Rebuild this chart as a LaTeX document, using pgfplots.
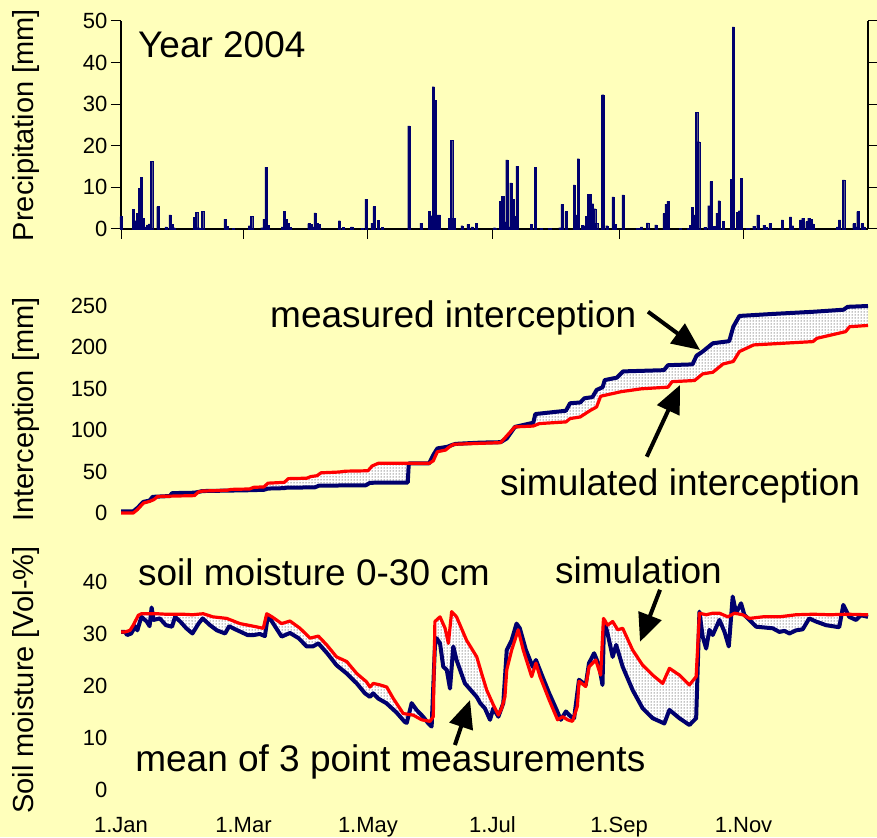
\documentclass[border=0pt]{standalone}
\usepackage{pgfplots}
\usepackage{pgfplotstable}
\pgfplotsset{compat=1.18}
\usepgfplotslibrary{fillbetween}
\usetikzlibrary{patterns,arrows.meta}
\usepackage{fontspec}
\setmainfont{Liberation Sans}
\definecolor{bg}{RGB}{255,255,187}
\definecolor{navy}{RGB}{0,0,110}
\definecolor{simred}{RGB}{255,0,0}

\pgfplotstableread{
day ic
0 2
6 2
8 6
11 13.5
14 15
15.5 19.5
24 20.5
25 24
36 24.5
38 25.5
40 26.5
63 27.5
70 28
72 29.5
80 30
81 30.5
95 31
97 33
120 33.5
122 36.5
140.5 36.8
141 60
151 60
153 70
155 78
160 80
162 82
164 83.5
176 85
186 85.5
189 90
193 104
202 109
203 119.5
218 123.5
220 132.5
225 133.5
227 138.5
231 140
233 148.5
236 152
237 160.5
243 163.5
246 171
266 172.5
268 178.5
280 179.5
282 190
285 195
287 199
290 205
298 207.5
300 225
303 238
320 240.5
339 243
354 245.5
356 249
366 250
}\measI

\pgfplotstableread{
day ic
0 0
6 0
8 4
11 12
14 14
16 16
18 20
36 21
38 25.5
40 26.5
52 27.5
54 28.5
63 29
65 31
70 31.5
72 36
80 37
82 41.5
91 42
93 44
96 45
98 48.5
107 49.5
110 50.5
121 51
123 56.7
126 60
151 60
153 63
155 74
159 76
161 80
163 83
186 85
193 104
202 105
205 108
218 110
220 114
225 116
230 124
233 128
235 141
245 146.5
255 150
268 152
270 158.6
281 160
285 168
290 170
295 180
300 183
303 195
310 203
339 207
341 211
355 219
357 225
366 226.5
}\simI

\pgfplotstableread{
day sm
0 30.4
2 30.4
3 29.8
5 30.1
7 31.5
8 30.7
10 33.3
12.6 32.4
14 31.5
15 35.1
16 32.7
19 33
22 31.7
25 31.4
26.5 33.3
29 32.4
32 31.1
35 30.1
38 32
40 33
43.6 31.7
47 30.7
51 30.1
53 31.5
56 30.9
62 29.8
65 29.8
68 30.0
70.5 29.6
72 33.6
74.6 32
78.7 29.5
82.8 30.2
87 29.2
91 27.6
94 27.6
96.7 28.2
101 26.3
105.6 24
110.6 22.4
115.5 20.5
119.5 18.6
122 17.9
123.5 18.6
126 17.6
130 16.7
135 14.9
139 13.1
140 12.9
142.4 16.7
144.8 15.4
148 14.1
150.6 12.8
152.2 12.2
153.8 27.6
154.6 29.2
156.3 28.2
157.9 23.7
159.6 23.1
161.2 19.5
162.8 27.6
164.4 25
168.5 20.5
174.3 17.9
176 16.7
178.3 15.7
180.8 13.5
182.4 15.7
184.9 14.1
187.3 16.7
189 26.9
191.4 28.8
193.8 32
195.4 31.1
198.4 26.9
201.7 23.7
203.3 25
206.5 21.8
209.8 18.6
213.1 15.7
215.5 13.5
218 15.1
220.4 14.1
222 13.8
224.4 21.2
227.7 20.2
229.3 24.4
231.8 26.3
234.2 24
235.9 20.2
236.7 32.7
238.4 30.1
240.9 25.6
242.6 27.9
245.8 23.7
250.7 19.2
255.6 15.7
260.5 13.8
266.2 12.8
268.7 15.4
273.6 13.8
278.5 12.5
281.8 13.8
283.4 34.3
285 29.5
286.7 27.2
288.3 30.8
289.9 29.8
293.2 32.7
295.7 30.4
297.8 27.6
299.7 37.2
301.4 34
303.8 35.9
305.4 33.7
311.2 31.4
319.3 31.1
322.6 30.4
325 30.6
327.5 30.1
330.7 30.7
334 30.9
337.2 33
340.5 32.4
345.4 31.7
351.9 31.3
353.9 35.6
356.8 33.3
360.1 32.7
362.5 33.6
366 33.3
}\measS

\pgfplotstableread{
day sm
0 30.4
2 30.4
4.4 30.7
6 31.7
8.5 33.6
10 33.9
17.5 33.9
22 33.8
30.5 33.8
35 33.7
40.3 33.9
45 33.3
51.8 33
58.3 32
64.8 31.5
69.7 31.1
71.4 33.9
74 33.3
78.7 32
82.8 32.5
87.7 31.1
92.6 29.2
96.7 29.6
100.8 27.9
105.6 25.6
110.6 24.7
115.5 22.4
120.3 20.8
122 19.8
123.6 20.5
127 20.2
130.2 19.8
133.4 17.6
138.3 14.7
143.2 14.4
147.3 13.5
151.4 13.2
153 14.1
153.8 32.4
156.3 33.3
158.8 31.1
160.4 28.2
162 34.3
164.4 33.3
169.3 28.8
174.3 25.6
177 22
179.2 19.2
182.4 16.4
184.9 14.4
186.5 15.7
188.1 17.9
189 23.1
191.4 26.9
194.6 30.8
197.1 26.9
201.2 21.8
203.3 24.4
205.3 21.8
209.8 17.3
213.9 13.5
216.4 14.1
218.8 13.5
221.2 13.2
223.6 16.1
224.4 20.9
227.7 19.9
229.3 23.7
232.6 25
235 22.1
236.4 33
238.4 31.7
240.9 32.4
243.4 30.8
245.8 31.1
250.7 26.9
255.6 24
260.5 22.1
265.4 20.5
268.7 23.4
273.6 22.1
278.5 20.2
281.8 21.8
283.4 34
286.7 33.7
289.9 34
293.2 34
297.3 33.3
300.6 34
304.6 33.7
307.9 33
314.4 33.3
322.6 33.3
330.7 33.7
339.2 33.8
347.4 33.7
355.6 33.8
366 33.7
}\simS

\begin{document}
\begin{tikzpicture}[font=\fontsize{22}{26}\selectfont]
\fill[bg] (0,0) rectangle (877pt,837pt);
\tikzset{fill between/on layer=main}
\pgfplotsset{
  panel/.style={
    width=747pt, scale only axis,
    xmin=0, xmax=366,
    axis x line=bottom, axis y line=box,
    axis line style={-, line width=1.1pt, black},
    tick align=outside,
    major tick length=10pt,
    tick style={black, line width=1pt},
    xtick={0,60,121,182,244,305},
    xticklabels={},
    /pgf/number format/assume math mode=true,
    tick label style={font=\fontsize{22}{26}\selectfont},
    xticklabel style={yshift=-13pt, text height=16pt, text depth=5pt},
    ylabel style={font=\fontsize{29}{33}\selectfont, at={(axis description cs:-0.127,0.5)}, anchor=center},
    clip=false,
    anchor=south west,
  },
}
\tikzset{
  ann/.style={font=\fontsize{37}{44}\selectfont, anchor=base west, inner sep=0pt},
  arr/.style={line width=4pt, -{Triangle[length=28pt,width=24pt]}},
  meas/.style={navy, line width=4pt, line join=round},
  sim/.style={simred, line width=3.2pt, line join=round},
}

% ---------------- Precipitation ----------------
\begin{axis}[panel, at={(121pt,608pt)}, height=208pt,
  ymin=0, ymax=50, ytick={0,10,...,50}, ylabel={Precipitation [mm]},
  ybar, bar width=2.2pt]
\addplot[fill=navy, draw=navy, line width=0.2pt] table {
0 3.0
6 4.8
7 2.0
8 3.8
9 9.8
10 12.4
11 2.6
12 0.5
13 1.0
14 1.2
15 16.2
18 5.4
22 0.5
24 3.4
25 1.1
26 0.3
36 2.8
37 4.0
38 0.3
40 4.2
51 2.4
52 0.7
55 0.2
63 0.8
64 3.1
69 0.3
70 2.4
71 14.9
72 0.9
79 0.5
80 4.3
81 2.4
82 1.3
83 0.4
92 1.3
93 1.1
94 0.5
95 3.9
96 1.4
97 1.1
107 2.0
109 0.4
113 0.5
118 0.1
120 7.2
123 1.4
124 5.4
126 2.1
128 0.4
141 24.8
147 1.4
151 4.3
152 3.2
153 34.2
154 31.0
155 3.4
156 3.4
161 2.6
162 21.3
163 2.5
167 0.8
170 1.1
172 0.5
174 1.3
183 0.3
186 6.7
187 7.8
188 1.7
189 16.6
190 0.5
191 11.1
192 7.1
193 3.0
194 15.1
201 1.1
203 14.8
206 0.1
210 0.1
215 0.3
216 5.9
218 4.2
222 10.6
223 3.4
224 16.9
226 0.9
227 0.8
228 3.1
229 8.3
230 8.3
231 6.1
232 4.9
233 1.3
236 32.3
238 0.8
241 7.7
242 1.1
246 8.2
253 0.2
254 0.2
255 0.5
258 1.5
262 1.0
266 3.7
267 6.0
268 6.7
274 0.1
278 0.1
279 0.9
280 5.2
281 3.4
282 28.1
283 21.0
286 0.4
288 5.6
289 11.4
290 0.7
291 0.7
292 3.8
293 6.8
295 1.8
299 11.9
300 48.6
302 4.0
303 4.4
304 12.2
307 0.1
310 0.7
312 3.4
315 0.9
316 0.4
318 1.3
324 2.2
328 2.9
329 0.8
333 2.2
334 2.6
336 1.8
337 2.6
338 2.4
339 1.2
351 0.5
352 2.2
354 11.8
359 1.3
360 0.5
361 4.2
363 1.3
364 0.5
};
\node[ann] at (axis cs:8.3,41.3) {Year 2004};
\end{axis}

% ---------------- Interception ----------------
\begin{axis}[panel, at={(121pt,324pt)}, height=207pt,
  ymin=0, ymax=250, ytick={0,50,...,250}, ylabel={Interception [mm]}]
\addplot[name path=meas, draw=none, forget plot] table[x=day, y=ic] {\measI};
\addplot[name path=sim, draw=none, forget plot] table[x=day, y=ic] {\simI};
\addplot[fill=white, draw=none] fill between[of=meas and sim];
\addplot[pattern=dots, pattern color=black, draw=none] fill between[of=meas and sim];
\addplot[meas] table[x=day, y=ic] {\measI};
\addplot[sim] table[x=day, y=ic] {\simI};
\node[ann] at (axis cs:73,224.6) {measured interception};
\draw[arr] (axis cs:258.2,243.1) -- (axis cs:283.7,196.9);
\node[ann] at (axis cs:185.7,21.7) {simulated interception};
\draw[arr] (axis cs:257.6,68) -- (axis cs:273.9,154.6);
\end{axis}

% ---------------- Soil moisture ----------------
\begin{axis}[panel, at={(121pt,47pt)}, height=208pt,
  ymin=0, ymax=40, ytick={0,10,...,40},
  xticklabels={1.Jan,1.Mar,1.May,1.Jul,1.Sep,1.Nov},
  ylabel={Soil moisture [Vol-\%]},
  ylabel style={at={(axis description cs:-0.127,0.529)}}]
\addplot[name path=smeas, draw=none, forget plot] table[x=day, y=sm] {\measS};
\addplot[name path=ssim, draw=none, forget plot] table[x=day, y=sm] {\simS};
\addplot[fill=white, draw=none] fill between[of=smeas and ssim];
\addplot[pattern=dots, pattern color=black, draw=none] fill between[of=smeas and ssim];
\addplot[meas] table[x=day, y=sm] {\measS};
\addplot[sim] table[x=day, y=sm] {\simS};
\node[ann] at (axis cs:8.3,39.4) {soil moisture 0-30 cm};
\node[ann] at (axis cs:212.6,39.75) {simulation};
\draw[arr] (axis cs:264.1,38.5) -- (axis cs:254.3,28.5);
\node[ann] at (axis cs:6.9,3.5) {mean of 3 point measurements};
\draw[arr] (axis cs:163.6,8.65) -- (axis cs:171,17.3);
\end{axis}
\pgfresetboundingbox
\useasboundingbox (0,0) rectangle (877pt,837pt);
\end{tikzpicture}
\end{document}
